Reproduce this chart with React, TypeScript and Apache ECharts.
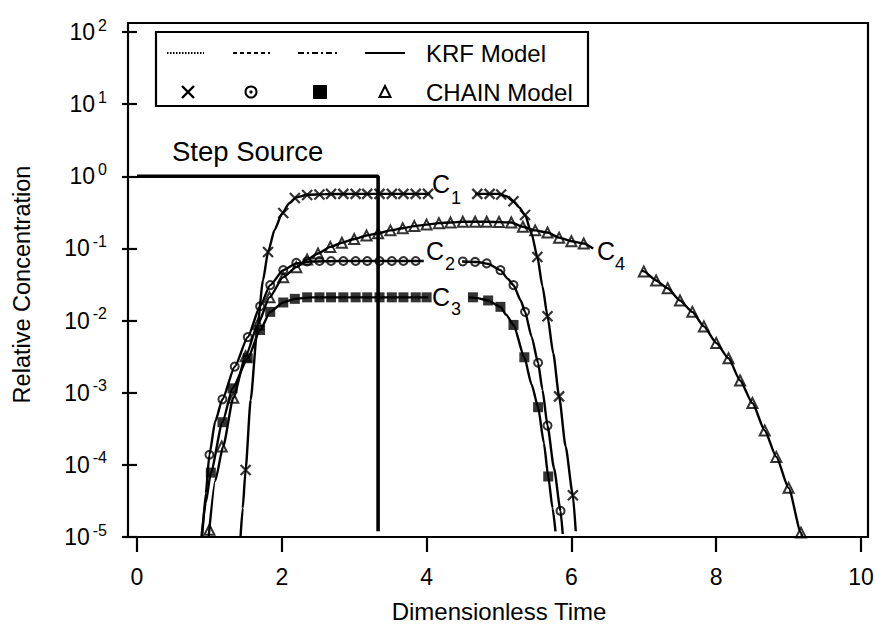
import React, { useEffect, useRef } from "react";
import * as echarts from "echarts";

const FONT = '"Liberation Sans", Arial, Helvetica, sans-serif';

// x-axis ticks and y-axis decades
const xTicks = [0, 2, 4, 6, 8, 10];
const yDecades = [1e-5, 1e-4, 1e-3, 1e-2, 1e-1, 1, 10, 100];

// Step source
const stepSource: [number, number][] = [[0, 1], [3.33, 1], [3.33, 1.2e-5]];

// KRF model lines (null = gap where the curve label sits)
const c1Krf: ([number, number] | null)[] = [
  [1.43, 1e-5], [1.46, 2.5e-5], [1.5, 8.5e-5], [1.57, 8e-4], [1.66, 7.4e-3], [1.74, 0.036], [1.81, 0.089],
  [1.9, 0.18], [2.0, 0.3], [2.1, 0.42], [2.2, 0.51], [2.35, 0.555], [2.6, 0.565], [3.0, 0.57], [3.5, 0.57], [4.05, 0.57],
  null,
  [4.67, 0.57], [5.0, 0.57], [5.1, 0.53], [5.2, 0.45], [5.28, 0.37], [5.36, 0.29], [5.45, 0.16], [5.53, 0.076],
  [5.6, 0.03], [5.67, 0.0115], [5.75, 0.0035], [5.83, 8.9e-4], [5.92, 1.8e-4], [6.02, 3.8e-5], [6.06, 1.2e-5],
];
const c2Krf: ([number, number] | null)[] = [
  [0.9, 1e-5], [0.95, 4e-5], [1.0, 1.38e-4], [1.08, 4e-4], [1.18, 8.1e-4], [1.35, 2.3e-3], [1.53, 5.9e-3],
  [1.7, 0.0158], [1.84, 0.031], [2.02, 0.05], [2.2, 0.062], [2.4, 0.066], [2.8, 0.067], [3.96, 0.067],
  null,
  [4.49, 0.066], [4.7, 0.065], [4.85, 0.061], [5.02, 0.05], [5.12, 0.038], [5.2, 0.031], [5.3, 0.019], [5.36, 0.0132],
  [5.45, 6e-3], [5.54, 2.6e-3], [5.6, 1.1e-3], [5.67, 3.5e-4], [5.76, 9e-5], [5.85, 2.3e-5], [5.88, 1.1e-5],
];
const c3Krf: ([number, number] | null)[] = [
  [0.89, 1e-5], [0.95, 3e-5], [1.02, 7.8e-5], [1.18, 3.9e-4], [1.32, 1.15e-3], [1.53, 3.0e-3], [1.7, 7.4e-3],
  [1.84, 0.0132], [2.02, 0.0178], [2.18, 0.02], [2.4, 0.021], [4.02, 0.021],
  null,
  [4.58, 0.021], [4.7, 0.0205], [4.85, 0.019], [5.02, 0.0155], [5.1, 0.012], [5.2, 8.7e-3], [5.35, 3.1e-3],
  [5.45, 1.3e-3], [5.54, 6.3e-4], [5.62, 2e-4], [5.68, 6.9e-5], [5.74, 2.5e-5], [5.78, 1.2e-5],
];
const c4Krf: ([number, number] | null)[] = [
  [0.99, 1e-5], [1.08, 6e-5], [1.19, 1.8e-4], [1.33, 8.5e-4], [1.5, 3.2e-3], [1.67, 8.9e-3], [1.83, 0.021],
  [2.02, 0.04], [2.2, 0.055], [2.35, 0.07], [2.5, 0.085], [2.67, 0.105], [2.83, 0.12], [3.0, 0.135], [3.17, 0.151],
  [3.33, 0.162], [3.5, 0.178], [3.67, 0.19], [3.83, 0.204], [4.0, 0.214], [4.17, 0.224], [4.33, 0.229], [4.5, 0.234],
  [4.83, 0.234], [5.17, 0.229], [5.33, 0.2], [5.5, 0.178], [5.67, 0.166], [5.83, 0.141], [6.0, 0.126], [6.17, 0.117],
  [6.3, 0.1],
  null,
  [6.97, 0.05], [7.0, 0.048], [7.17, 0.036], [7.33, 0.028], [7.5, 0.019], [7.67, 0.0132], [7.83, 8.3e-3], [8.0, 4.9e-3],
  [8.17, 3.0e-3], [8.33, 1.48e-3], [8.5, 7.2e-4], [8.67, 3.0e-4], [8.83, 1.29e-4], [9.0, 4.8e-5], [9.17, 1.15e-5],
  [9.19, 1e-5],
];

// CHAIN model points (markers)
const c1Chain: [number, number][] = [
  [1.5, 8.5e-5], [1.81, 0.089], [2.02, 0.31], [2.18, 0.5], [2.35, 0.55], [2.52, 0.56], [2.68, 0.57], [2.85, 0.57],
  [3.02, 0.57], [3.18, 0.57], [3.35, 0.57], [3.52, 0.57], [3.68, 0.57], [3.85, 0.57], [4.02, 0.57],
  [4.7, 0.57], [4.87, 0.57], [5.03, 0.56], [5.2, 0.45], [5.36, 0.29], [5.53, 0.076], [5.67, 0.0115], [5.83, 8.9e-4],
  [6.02, 3.8e-5],
];
const c2Chain: [number, number][] = [
  [1.0, 1.38e-4], [1.18, 8.1e-4], [1.35, 2.3e-3], [1.53, 5.9e-3], [1.7, 0.0158], [1.84, 0.031], [2.02, 0.05],
  [2.2, 0.063], [2.35, 0.066], [2.52, 0.067], [2.68, 0.067], [2.85, 0.067], [3.02, 0.067], [3.18, 0.067],
  [3.35, 0.067], [3.52, 0.067], [3.68, 0.067], [3.85, 0.067],
  [4.5, 0.066], [4.67, 0.065], [4.83, 0.062], [5.02, 0.05], [5.2, 0.031], [5.36, 0.0132], [5.54, 2.6e-3],
  [5.67, 3.5e-4], [5.85, 2.3e-5],
];
const c3Chain: [number, number][] = [
  [1.02, 7.8e-5], [1.18, 3.9e-4], [1.32, 1.15e-3], [1.53, 3.0e-3], [1.7, 7.4e-3], [1.84, 0.0132], [2.02, 0.0178],
  [2.18, 0.02], [2.35, 0.021], [2.52, 0.021], [2.68, 0.021], [2.85, 0.021], [3.02, 0.021], [3.18, 0.021],
  [3.35, 0.021], [3.52, 0.021], [3.68, 0.021], [3.85, 0.021], [4.0, 0.021],
  [4.64, 0.021], [4.85, 0.019], [5.02, 0.0155], [5.2, 8.7e-3], [5.35, 3.1e-3], [5.54, 6.3e-4], [5.68, 6.9e-5],
];
const c4Chain: [number, number][] = [
  [1.0, 1.26e-5], [1.17, 1.8e-4], [1.33, 8.5e-4], [1.5, 3.2e-3], [1.67, 8.9e-3], [1.83, 0.021], [2.02, 0.04],
  [2.2, 0.055], [2.35, 0.07], [2.5, 0.085], [2.67, 0.105], [2.83, 0.12], [3.0, 0.135], [3.17, 0.151], [3.33, 0.162],
  [3.5, 0.178], [3.67, 0.19], [3.83, 0.204], [4.0, 0.214], [4.17, 0.224], [4.33, 0.229], [4.5, 0.234], [4.67, 0.234],
  [4.83, 0.234], [5.0, 0.232], [5.17, 0.229], [5.33, 0.2], [5.5, 0.178], [5.67, 0.166], [5.83, 0.141], [6.0, 0.126],
  [6.17, 0.117],
  [7.0, 0.048], [7.17, 0.036], [7.33, 0.028], [7.5, 0.019], [7.67, 0.0132], [7.83, 8.3e-3], [8.0, 4.9e-3],
  [8.17, 3.0e-3], [8.33, 1.48e-3], [8.5, 7.2e-4], [8.67, 3.0e-4], [8.83, 1.29e-4], [9.0, 4.8e-5], [9.17, 1.15e-5],
];

const X_PATH = "path://M0,0L10,10M10,0L0,10";

function segments(pts: ([number, number] | null)[]): [number, number][][] {
  const out: [number, number][][] = [];
  let cur: [number, number][] = [];
  for (const p of pts) {
    if (p === null) {
      if (cur.length) out.push(cur);
      cur = [];
    } else cur.push(p);
  }
  if (cur.length) out.push(cur);
  return out;
}

function lineSeries(pts: ([number, number] | null)[]) {
  return segments(pts).map((seg) => ({
    type: "line",
    data: seg,
    showSymbol: false,
    smooth: 0.2,
    smoothMonotone: "x",
    silent: true,
    z: 2,
    lineStyle: { color: "#000", width: 2.4 },
  }));
}

function markerSeries(pts: [number, number][], symbol: string, size: number, filled: boolean, bw: number) {
  return {
    type: "scatter",
    data: pts,
    symbol,
    symbolSize: size,
    silent: true,
    z: 4,
    itemStyle: {
      color: filled ? "#000" : "rgba(0,0,0,0)",
      borderColor: "#000",
      borderWidth: bw,
    },
  };
}

function txt(x: number, y: number, text: string, size: number, align = "left") {
  return {
    type: "text",
    x,
    y,
    silent: true,
    z: 20,
    style: {
      text,
      fill: "#000",
      font: `${size}px ${FONT}`,
      fontSize: size,
      fontFamily: FONT,
      align,
      verticalAlign: "middle",
      textAlign: align,
      textVerticalAlign: "middle",
    },
  };
}

function hline(x1: number, x2: number, y: number, dash: number[] | null) {
  return {
    type: "line",
    silent: true,
    z: 20,
    shape: { x1, y1: y, x2, y2: y },
    style: { stroke: "#000", lineWidth: 2.2, lineDash: dash || undefined },
  };
}

export default function App() {
  const ref = useRef<HTMLDivElement>(null);
  useEffect(() => {
    if (!ref.current) return;
    const chart = echarts.init(ref.current, undefined, { renderer: "svg" });
    const GL = 137, GR = 861, GT = 32, GB = 537;
    const option: any = {
      animation: false,
      backgroundColor: "#fff",
      grid: {
        left: GL,
        right: 876 - GR,
        top: GT,
        bottom: 628 - GB,
        containLabel: false,
        outerBoundsMode: "none",
      },
      xAxis: {
        type: "value",
        min: xTicks[0],
        max: xTicks[xTicks.length - 1],
        interval: 2,
        name: "Dimensionless Time",
        nameLocation: "middle",
        nameGap: 62,
        nameTextStyle: { fontFamily: FONT, fontSize: 24, color: "#000" },
        axisLine: { show: false },
        axisTick: { show: true, length: 15, lineStyle: { color: "#000", width: 2.2 } },
        axisLabel: { margin: 28, fontFamily: FONT, fontSize: 23, color: "#000" },
        splitLine: { show: false },
      },
      yAxis: {
        type: "log",
        logBase: 10,
        min: yDecades[0],
        max: yDecades[yDecades.length - 1],
        offset: 9,
        name: "Relative Concentration",
        nameLocation: "middle",
        nameRotate: 90,
        nameGap: 94,
        nameTextStyle: { fontFamily: FONT, fontSize: 23.5, color: "#000" },
        axisLine: { show: false },
        axisTick: { show: true, length: 15, lineStyle: { color: "#000", width: 2.2 } },
        axisLabel: {
          margin: 21,
          formatter: (v: number) => `{b|10}{e|${Math.round(Math.log10(v))}}`,
          rich: {
            b: { fontFamily: FONT, fontSize: 23, color: "#000", lineHeight: 30, verticalAlign: "middle" },
            e: { fontFamily: FONT, fontSize: 16, color: "#000", lineHeight: 8, verticalAlign: "top", padding: [0, 0, 0, 3] },
          },
        },
        splitLine: { show: false },
        minorTick: { show: false },
      },
      graphic: [
        {
          type: "rect",
          silent: true,
          z: 30,
          shape: { x: 128, y: 23, width: 740, height: 514 },
          style: { fill: "none", stroke: "#000", lineWidth: 2.2 },
        },
        // legend box
        {
          type: "rect",
          silent: true,
          z: 20,
          shape: { x: 156, y: 32, width: 432, height: 74 },
          style: { fill: "#fff", stroke: "#000", lineWidth: 2.2 },
        },
        hline(167, 204, 53, [1.5, 1.5]),
        hline(233, 270, 53, [4, 3]),
        hline(298, 338, 53, [6, 3, 2, 3]),
        hline(365, 405, 53, null),
        txt(426, 53, "KRF Model", 24),
        {
          type: "line", silent: true, z: 21,
          shape: { x1: 182, y1: 86, x2: 194, y2: 98 },
          style: { stroke: "#000", lineWidth: 2.4 },
        },
        {
          type: "line", silent: true, z: 21,
          shape: { x1: 194, y1: 86, x2: 182, y2: 98 },
          style: { stroke: "#000", lineWidth: 2.4 },
        },
        {
          type: "circle", silent: true, z: 21,
          shape: { cx: 251, cy: 92, r: 5.5 },
          style: { fill: "none", stroke: "#000", lineWidth: 2 },
        },
        {
          type: "circle", silent: true, z: 21,
          shape: { cx: 251, cy: 92, r: 1.6 },
          style: { fill: "#000" },
        },
        {
          type: "rect", silent: true, z: 21,
          shape: { x: 313, y: 85, width: 14, height: 14 },
          style: { fill: "#000" },
        },
        {
          type: "polygon", silent: true, z: 21,
          shape: { points: [[385, 86], [379.5, 97], [390.5, 97]] },
          style: { fill: "none", stroke: "#000", lineWidth: 2 },
        },
        txt(426, 92, "CHAIN Model", 24),
        // annotations
        txt(172, 151, "Step Source", 27.5),
        txt(432, 184, "C", 25),
        txt(451, 198, "1", 18),
        txt(426, 251, "C", 25),
        txt(445, 264, "2", 18),
        txt(432, 297, "C", 25),
        txt(451, 309, "3", 18),
        txt(597, 251, "C", 25),
        txt(615, 264, "4", 18),
      ],
      series: [
        {
          type: "line",
          data: stepSource,
          showSymbol: false,
          silent: true,
          z: 3,
          lineStyle: { color: "#000", width: 3.6 },
        },
        ...lineSeries(c1Krf),
        ...lineSeries(c2Krf),
        ...lineSeries(c3Krf),
        ...lineSeries(c4Krf),
        markerSeries(c1Chain, X_PATH, 10, true, 2.2),
        markerSeries(c2Chain, "circle", 8, false, 2),
        markerSeries(c3Chain, "rect", 10, true, 0),
        markerSeries(c4Chain, "triangle", 10, false, 2),
      ],
    };
    chart.setOption(option);
    return () => chart.dispose();
  }, []);
  return (
    <div
      ref={ref}
      style={{ position: "fixed", left: 0, top: 0, width: 876, height: 628, background: "#fff" }}
    />
  );
}
